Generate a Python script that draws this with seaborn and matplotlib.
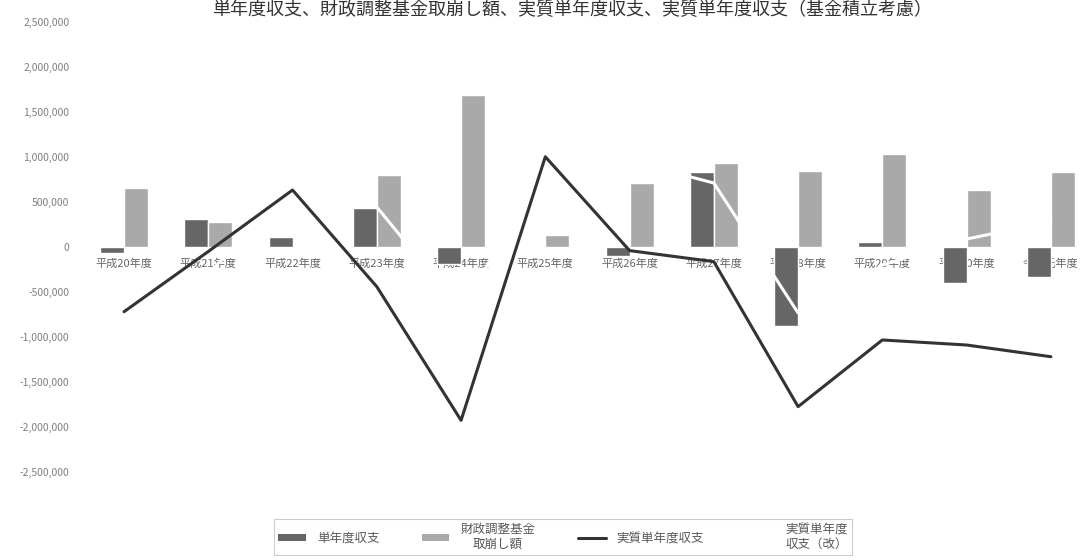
import numpy as np
import pandas as pd
import matplotlib
matplotlib.use("Agg")
import matplotlib.pyplot as plt
import seaborn as sns
from matplotlib.patches import Patch
from matplotlib.lines import Line2D
from matplotlib.ticker import FuncFormatter, MultipleLocator

# ---------------- data ----------------
categories = ["平成20年度", "平成21年度", "平成22年度", "平成23年度", "平成24年度",
              "平成25年度", "平成26年度", "平成27年度", "平成28年度", "平成29年度",
              "平成30年度", "令和元年度"]
single_year = [-63000, 311000, 114000, 433000, -190000, 0,
               -100000, 837000, -874000, 59000, -397000, -330000]
fund_withdrawal = [652000, 281000, 0, 800000, 1689000, 130000,
                   714000, 937000, 848000, 1033000, 633000, 837000]
real_single_year = [-719000, -50000, 633000, -441000, -1926000, 1003000,
                    -40000, -163000, -1774000, -1033000, -1089000, -1219000]
real_single_year_rev = [-720000, -300000, 700000, 445000, -700000, 900000,
                        956000, 711000, -733000, -200000, 89000, 278000]

bar_names = ["単年度収支", "財政調整基金取崩し額"]
legend_labels = ["単年度収支", "財政調整基金\n取崩し額", "実質単年度収支", "実質単年度\n収支（改）"]
title = "単年度収支、財政調整基金取崩し額、実質単年度収支、実質単年度収支（基金積立考慮）"

dark = "#666666"
light = "#a9a9a9"
line_color = "#333333"

bars_df = pd.DataFrame({
    "年度": categories * 2,
    "系列": [bar_names[0]] * len(categories) + [bar_names[1]] * len(categories),
    "金額": single_year + fund_withdrawal,
})

# ---------------- plot ----------------
sns.set_theme(style="white")
plt.rcParams['font.family'] = ['Noto Sans CJK JP', 'DejaVu Sans']

fig = plt.figure(figsize=(10.85, 5.6), dpi=100)
ax = fig.add_axes([81.9 / 1085, 1 - 472 / 560, (1093 - 81.9) / 1085, 450 / 560])

sns.barplot(data=bars_df, x="年度", y="金額", hue="系列", order=categories,
            hue_order=bar_names, palette=[dark, light], width=0.57, gap=0,
            saturation=1, legend=False, ax=ax, errorbar=None)

# white "revised" line first, so the dark line stays on top of it
sns.pointplot(x=categories, y=real_single_year_rev, order=categories, color="white",
              errorbar=None, marker="", linewidth=2.2, ax=ax)
sns.pointplot(x=categories, y=real_single_year, order=categories, color=line_color,
              errorbar=None, marker="", linewidth=2.2, ax=ax)

ax.set_ylim(-2500000, 2500000)
ax.set_xlim(-0.5, len(categories) - 0.5)
ax.yaxis.set_major_locator(MultipleLocator(500000))
ax.yaxis.set_major_formatter(FuncFormatter(lambda v, p: f"{int(round(v)):,}"))
ax.set_xlabel("")
ax.set_ylabel("")
for s in ["top", "right", "left"]:
    ax.spines[s].set_visible(False)
ax.spines["bottom"].set_position(("data", 0))
ax.spines["bottom"].set_visible(False)
ax.grid(False)
ax.tick_params(axis="x", length=0, pad=8, labelsize=8, labelcolor="#666666")
ax.tick_params(axis="y", length=0, pad=9, labelsize=7.5, labelcolor="#7f7f7f")

handles = [Patch(facecolor=dark, edgecolor="none"),
           Patch(facecolor=light, edgecolor="none"),
           Line2D([], [], color=line_color, lw=2.2),
           Line2D([], [], color="white", lw=2.2)]
leg = fig.legend(handles, legend_labels, loc="center", bbox_to_anchor=(0.519, 0.041),
                 ncol=4, frameon=True, fontsize=9, fancybox=False, edgecolor="#c0c0c0",
                 handlelength=2.2, handleheight=0.5, columnspacing=3.4,
                 handletextpad=0.9, borderpad=0.35)
leg.get_frame().set_linewidth(0.8)
for t in leg.get_texts():
    t.set_color("#595959")
    t.set_multialignment("center")

fig.text(0.527, 1 - 10 / 560, title, ha="center", va="center", fontsize=13, color="#333333")

fig.savefig("out.png", dpi=100)
